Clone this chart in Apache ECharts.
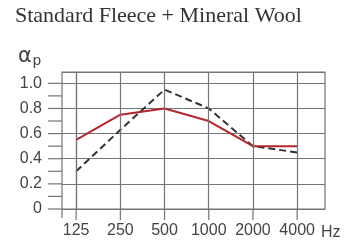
<!DOCTYPE html>
<html>
<head>
<meta charset="utf-8">
<script src="https://cdn.jsdelivr.net/npm/echarts@6/dist/echarts.min.js"></script>
<style>html,body{margin:0;padding:0;background:#fff}#c{width:344px;height:243px}</style>
</head>
<body>
<div id="c"></div>
<script>
var titleText = 'Standard Fleece + Mineral Wool';
var categories = ['125', '250', '500', '1000', '2000', '4000'];
var unitLabel = 'Hz';
var fleeceMineralWool = [0.55, 0.75, 0.80, 0.70, 0.50, 0.50];
var referenceDashed = [0.30, 0.63, 0.95, 0.80, 0.50, 0.45];
var yLabelTicks = [0, 0.2, 0.4, 0.6, 0.8, 1.0];
var yTickMarks = [0, 0.1, 0.2, 0.3, 0.4, 0.5, 0.6, 0.7, 0.8, 0.9, 1.0];

var gridColor = '#747474';
var gridWidth = 1.2;
var idx = categories.map(function (c, i) { return i; });
function pairs(arr) { return arr.map(function (v, i) { return [i, v]; }); }

var chart = echarts.init(document.getElementById('c'), null, { renderer: 'canvas' });
chart.setOption({
  animation: false,
  backgroundColor: '#fff',
  grid: { left: 62, right: 19, top: 72, bottom: 34, show: true, borderColor: gridColor, borderWidth: gridWidth, backgroundColor: 'transparent' },
  xAxis: {
    type: 'value', min: -0.32, max: 5.63,
    axisLine: { show: false },
    splitLine: { show: false },
    axisTick: { show: false },
    axisLabel: {
      customValues: idx, margin: 14, fontSize: 16, color: '#444', fontFamily: 'Liberation Sans',
      formatter: function (v) { return categories[Math.round(v)]; }
    }
  },
  yAxis: {
    type: 'value', min: 0, max: 1.09, interval: 0.2,
    axisLine: { show: true, lineStyle: { color: gridColor, width: gridWidth } },
    axisTick: { show: false },
    splitLine: { show: true, lineStyle: { color: gridColor, width: gridWidth } },
    axisLabel: {
      customValues: yLabelTicks, margin: 20, fontSize: 16, color: '#444', fontFamily: 'Liberation Sans',
      formatter: function (v) { return v === 0 ? '0' : v.toFixed(1); }
    }
  },
  graphic: [
    { type: 'text', left: 15, top: 5, style: { text: titleText, font: '22px "Liberation Serif"', fill: '#333' } },
    { type: 'text', left: 18, top: 46, style: { text: '{a|α}{p|p}', rich: {
        a: { fontSize: 21, fontFamily: 'DejaVu Sans', fill: '#444' },
        p: { fontSize: 15, fontFamily: 'Liberation Sans', fill: '#444', padding: [9, 0, 0, 1] } } } },
    { type: 'text', left: 321, top: 225, style: { text: unitLabel, font: '16px "Liberation Sans"', fill: '#444' } }
  ],
  series: [
    {
      type: 'line', data: [], z: 1, silent: true,
      markLine: {
        silent: true, symbol: 'none', label: { show: false },
        lineStyle: { color: gridColor, width: gridWidth, type: 'solid' },
        data: idx.map(function (i) { return { xAxis: i }; })
      }
    },
    {
      type: 'custom', z: 1, silent: true,
      data: yTickMarks.map(function (v) { return [0, v]; }),
      renderItem: function (params, api) {
        var y = api.coord([0, api.value(1)])[1];
        var x = params.coordSys.x;
        return { type: 'line', shape: { x1: x - 14, y1: y, x2: x, y2: y }, style: { stroke: gridColor, lineWidth: gridWidth } };
      }
    },
    {
      type: 'custom', z: 1, silent: true,
      data: idx.map(function (i) { return [i, 0]; }),
      renderItem: function (params, api) {
        var p = api.coord([api.value(0), 0]);
        return { type: 'line', shape: { x1: p[0], y1: p[1], x2: p[0], y2: p[1] + 11 }, style: { stroke: gridColor, lineWidth: gridWidth } };
      }
    },
    {
      type: 'custom', z: 1, silent: true,
      data: [[0, 0]],
      renderItem: function (params, api) {
        var cs = params.coordSys;
        var y = api.coord([0, 0])[1];
        return { type: 'line', shape: { x1: cs.x, y1: y, x2: cs.x, y2: y + 9 }, style: { stroke: gridColor, lineWidth: gridWidth } };
      }
    },
    {
      type: 'line', data: pairs(referenceDashed), z: 3, symbol: 'none',
      lineStyle: { color: '#333', width: 2, type: [7, 4] }
    },
    {
      type: 'line', data: pairs(fleeceMineralWool), z: 4, symbol: 'none',
      lineStyle: { color: '#b3262e', width: 2 }
    }
  ]
});
</script>
</body>
</html>
